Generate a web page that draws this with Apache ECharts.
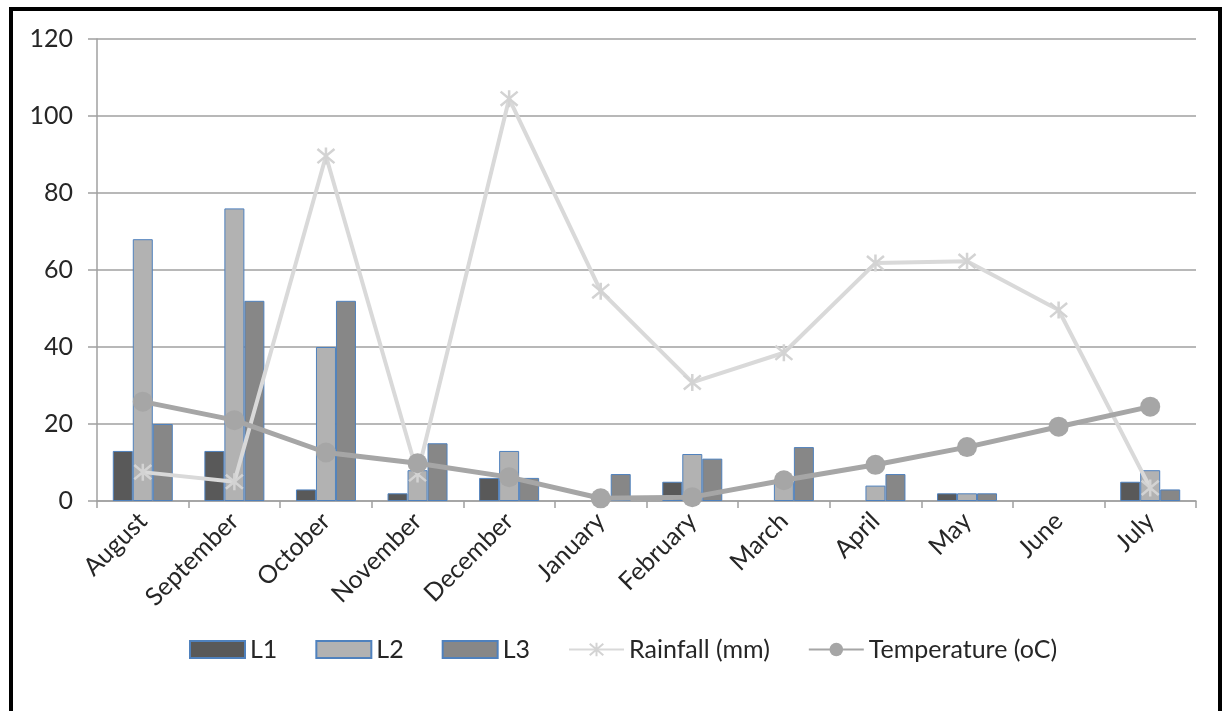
<!DOCTYPE html>
<html>
<head>
<meta charset="utf-8">
<script src="https://cdn.jsdelivr.net/npm/echarts@6/dist/echarts.min.js"></script>
<style>
html,body{margin:0;padding:0;background:#fff;}
#c{width:1224px;height:711px;}
</style>
</head>
<body>
<div id="c"></div>
<script>
var categories = ['August','September','October','November','December','January','February','March','April','May','June','July'];
var yTicks = [0, 20, 40, 60, 80, 100, 120];
var L1 = [13, 13, 3, 2, 6, null, 5, null, null, 2, null, 5];
var L2 = [68, 76, 40, 8, 13, null, 12.2, 5, 4, 2, null, 8];
var L3 = [20, 52, 52, 15, 6, 7, 11, 14, 7, 2, null, 3];
var rainfall = [7.5, 5, 89.6, 7, 104.5, 54.5, 30.8, 38.5, 61.8, 62.3, 49.6, 3.4];
var temperature = [25.8, 21, 12.6, 9.8, 6.2, 0.7, 1, 5.4, 9.4, 14, 19.3, 24.5];

var FONT = 'Lato';
var chart = echarts.init(document.getElementById('c'), null, {renderer:'canvas'});
var starPath = 'path://M0,0L10,10M10,0L0,10M5,-1L5,11';
function bar(name, data, color){
  return {
    name: name, type: 'bar', data: data,
    barWidth: 20, barGap: '0%',
    itemStyle: {color: color, borderColor: '#4f81bd', borderWidth: 1},
    emphasis: {disabled: true}
  };
}
chart.setOption({
  animation: false,
  backgroundColor: '#ffffff',
  textStyle: {fontFamily: FONT},
  graphic: [{
    type: 'rect', z: 100,
    shape: {x: 11, y: 9, width: 1209, height: 720},
    style: {fill: 'none', stroke: '#000', lineWidth: 4}
  }],
  grid: {left: 97, right: 28, top: 39, bottom: 210, containLabel: false},
  legend: {
    top: 632, left: 184,
    itemWidth: 55, itemHeight: 17, itemGap: 38,
    textStyle: {fontFamily: FONT, fontSize: 25, color: '#262626', padding:[0,0,0,0]},
    data: [
      {name: 'L1', icon: 'rect'},
      {name: 'L2', icon: 'rect'},
      {name: 'L3', icon: 'rect'},
      {name: 'Rainfall (mm)'},
      {name: 'Temperature (oC)'}
    ]
  },
  xAxis: {
    type: 'category', data: categories,
    boundaryGap: true,
    axisLine: {lineStyle: {color: '#a0a0a0', width: 1.5}},
    axisTick: {show: true, alignWithLabel: false, length: 7, lineStyle: {color: '#a0a0a0', width: 1.5}},
    axisLabel: {rotate: 45, interval: 0, margin: 16, fontFamily: FONT, fontSize: 25, color: '#262626'},
    splitLine: {show: false}
  },
  yAxis: {
    type: 'value', min: yTicks[0], max: yTicks[yTicks.length-1], interval: 20,
    axisLine: {show: true, lineStyle: {color: '#a0a0a0', width: 1.5}},
    axisTick: {show: true, length: 9, lineStyle: {color: '#a0a0a0', width: 1.5}},
    axisLabel: {margin: 24, fontFamily: FONT, fontSize: 25, color: '#262626'},
    splitLine: {lineStyle: {color: '#a0a0a0', width: 1.5}}
  },
  series: [
    bar('L1', L1, '#595959'),
    bar('L2', L2, '#b2b2b2'),
    bar('L3', L3, '#878787'),
    {
      name: 'Rainfall (mm)', type: 'line', data: rainfall,
      symbol: starPath, symbolSize: 17, z: 3,
      lineStyle: {color: '#d9d9d9', width: 4},
      itemStyle: {color: '#d3d3d3', borderColor: '#d3d3d3', borderWidth: 2.5},
      emphasis: {disabled: true}
    },
    {
      name: 'Temperature (oC)', type: 'line', data: temperature,
      symbol: 'circle', symbolSize: 20, z: 4,
      lineStyle: {color: '#a6a6a6', width: 5},
      itemStyle: {color: '#a6a6a6', borderWidth: 0},
      emphasis: {disabled: true}
    }
  ]
});
</script>
</body>
</html>
